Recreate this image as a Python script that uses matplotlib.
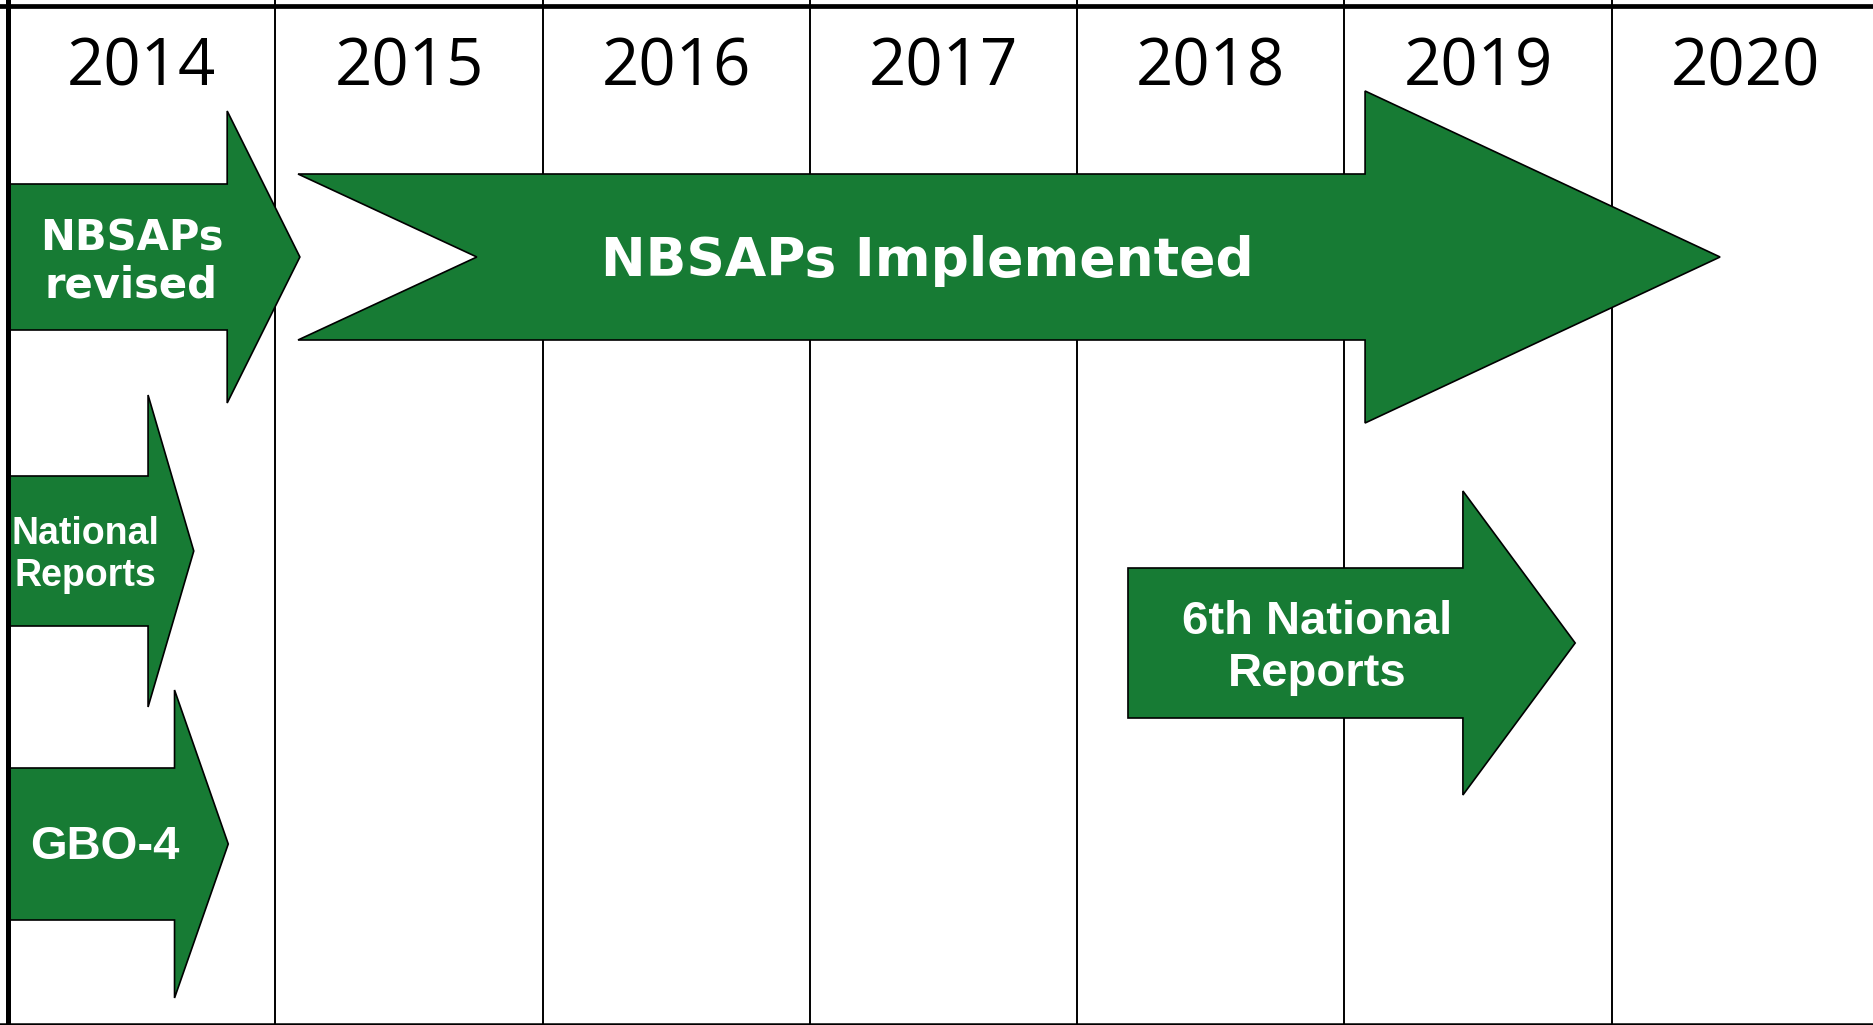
import matplotlib.pyplot as plt
from matplotlib.patches import Polygon

# Timeline columns
years = [2014, 2015, 2016, 2017, 2018, 2019, 2020]

# Arrows: label, start year, tip year
arrow_labels = ["NBSAPs\nrevised", "NBSAPs Implemented", "National\nReports", "GBO-4", "6th National\nReports"]
arrow_start = [2014.0, 2015.085, 2014.0, 2014.0, 2018.19]
arrow_end = [2015.092, 2020.405, 2014.695, 2014.824, 2019.863]

# Layout for each arrow (pixel rows from the top, head length in years)
row_center = [257, 257, 551, 844, 643]
shaft_half = [73, 83, 75, 76, 75]
head_half = [146, 166, 156, 154, 152]
head_len = [0.272, 1.328, 0.171, 0.201, 0.420]
notch = [0, 0.669, 0, 0, 0]
text_x = [2014.462, 2017.44, 2014.29, 2014.363, 2018.897]
text_y = [262, 261, 555, 847, 648]
text_font = ["DejaVu Sans", "DejaVu Sans", "Liberation Sans", "Liberation Sans", "Liberation Sans"]
text_size = [30, 38.5, 27, 34, 34]
text_spacing = [1.15, 1.0, 1.23, 1.0, 1.24]

GREEN = "#177b34"

fig = plt.figure(figsize=(18.74, 10.25), dpi=100)
ax = fig.add_axes([0, 0, 1, 1])
ax.set_xlim(2014 - 8 / 267.3, 2014 + 1866 / 267.3)
ax.set_ylim(1025, 0)
ax.axis("off")

# grid of year columns
for y in years[1:]:
    ax.axvline(y, color="black", lw=1.4, zorder=1)
ax.axvline(years[0], color="black", lw=3.6, zorder=4)
ax.axhline(6, color="black", lw=3.4, zorder=4)
ax.axhline(1023.5, color="black", lw=1.8, zorder=4)

for y in years:
    ax.text(y + 0.5, 68, str(y), ha="center", va="center",
            fontsize=47, family="Open Sans", color="black")

# arrows
for i, label in enumerate(arrow_labels):
    x0, x1 = arrow_start[i], arrow_end[i]
    xb = x1 - head_len[i]
    yc, sh, hh = row_center[i], shaft_half[i], head_half[i]
    pts = [
        (x0, yc - sh), (xb, yc - sh), (xb, yc - hh), (x1, yc),
        (xb, yc + hh), (xb, yc + sh), (x0, yc + sh),
    ]
    if notch[i]:
        pts.append((x0 + notch[i], yc))
    ax.add_patch(Polygon(pts, closed=True, facecolor=GREEN, edgecolor="black",
                         lw=1.2, zorder=2, joinstyle="miter"))
    ax.text(text_x[i], text_y[i], label, ha="center", va="center",
            multialignment="center", linespacing=text_spacing[i],
            fontsize=text_size[i], family=text_font[i], weight="bold",
            color="white", zorder=3)

fig.savefig("out.png", dpi=100)
